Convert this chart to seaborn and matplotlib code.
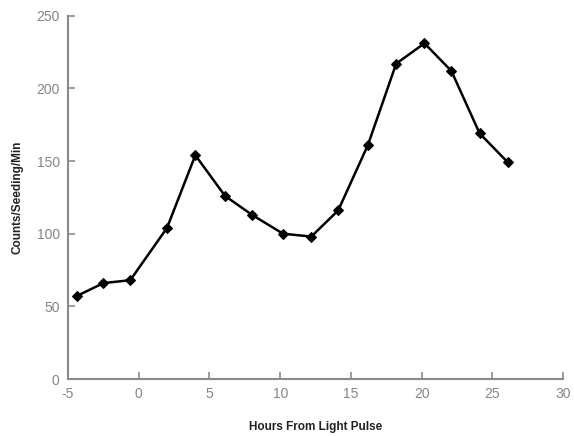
import matplotlib
matplotlib.use("Agg")
import matplotlib.pyplot as plt
import seaborn as sns
import pandas as pd

hours = [-4.4, -2.5, -0.6, 2.0, 4.0, 6.1, 8.0, 10.2, 12.2, 14.1, 16.2, 18.2, 20.2, 22.1, 24.1, 26.1]
counts = [57, 66, 68, 104, 154, 126, 113, 100, 98, 116, 161, 217, 231, 212, 169, 149]
x_ticks = [-5, 0, 5, 10, 15, 20, 25, 30]
y_ticks = [0, 50, 100, 150, 200, 250]

sns.set_theme(style="white")
plt.rcParams['font.family'] = ['Liberation Sans', 'DejaVu Sans']
plt.rcParams['axes.unicode_minus'] = False

df = pd.DataFrame({"Hours": hours, "Counts": counts})

fig = plt.figure(figsize=(5.74, 4.36), dpi=100)
ax = fig.add_axes([0.1185, 0.1307, 0.8625, 0.8333])
sns.lineplot(data=df, x="Hours", y="Counts", ax=ax, color="black", linewidth=1.8,
             marker="D", markersize=5.5, markeredgecolor="black", markerfacecolor="black")

ax.set_xlim(-5, 30)
ax.set_ylim(0, 250)
ax.set_xticks(x_ticks)
ax.set_yticks(y_ticks)
for s in ["top", "right"]:
    ax.spines[s].set_visible(False)
for s in ["left", "bottom"]:
    ax.spines[s].set_color("#8a8a8a")
    ax.spines[s].set_linewidth(1.5)
ax.tick_params(direction="in", length=5, width=1.2, color="#8a8a8a",
               labelcolor="#858585", labelsize=10, pad=6,
               bottom=True, left=True)

lab_font = dict(family=['Liberation Sans Narrow', 'Liberation Sans', 'DejaVu Sans'],
                fontweight="bold", fontsize=8.5, color="#222222")
ax.set_xlabel("Hours From Light Pulse", labelpad=14, **lab_font)
ax.set_ylabel("Counts/Seeding/Min", labelpad=9, **lab_font)

fig.savefig("out.png", dpi=100)
